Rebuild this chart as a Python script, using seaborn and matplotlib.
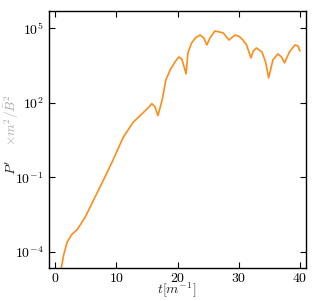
import numpy as np
import pandas as pd
import matplotlib
matplotlib.use("Agg")
import matplotlib.pyplot as plt
from matplotlib.ticker import FuncFormatter
import seaborn as sns

# values (time, log10 of P' m^2 / B^2)
t_vals = [1.0, 1.4, 1.96, 2.7, 3.6, 4.9, 6.1, 7.3, 8.4, 9.5, 11.1, 12.7,
          14.4, 15.3, 15.8, 16.3, 16.8, 17.5, 18.1, 18.8, 19.6, 20.2, 20.7,
          21.4, 21.7, 22.3, 23.0, 23.7, 24.3, 24.8, 25.3, 26.1, 26.9, 27.5,
          28.4, 29.4, 30.1, 30.7, 31.3, 32.0, 32.4, 32.9, 33.8, 34.4, 34.9,
          35.6, 36.4, 37.0, 37.5, 38.3, 39.2, 39.7, 40.0]
log_p = [-4.64, -4.1, -3.6, -3.3, -3.1, -2.6, -2.0, -1.4, -0.85, -0.28, 0.6,
         1.2, 1.6, 1.82, 1.96, 1.84, 1.48, 2.12, 2.92, 3.32, 3.64, 3.84, 3.76,
         3.16, 4.0, 4.4, 4.62, 4.72, 4.6, 4.32, 4.6, 4.88, 4.84, 4.8, 4.52,
         4.72, 4.66, 4.52, 4.32, 3.8, 4.08, 4.2, 4.04, 3.64, 3.0, 3.72, 3.96,
         3.84, 3.6, 4.04, 4.32, 4.28, 4.08]

data = pd.DataFrame({"t": t_vals, "P": np.power(10.0, log_p)})

x_ticks = [0, 10, 20, 30, 40]
y_ticks = [1e-4, 1e-1, 1e2, 1e5]

sns.set_style("ticks")
plt.rcParams["font.family"] = ["DejaVu Serif"]
plt.rcParams["mathtext.fontset"] = "cm"

fig = plt.figure(figsize=(3.34, 3.01), dpi=100)
ax = fig.add_axes([0.147, 0.110, 0.769, 0.853])

sns.lineplot(data=data, x="t", y="P", color="#ff8c1a", linewidth=1.2, ax=ax)
ax.set_yscale("log")
ax.set_xlim(-1, 41)
ax.set_ylim(10 ** -4.64, 10 ** 5.68)
ax.set_xticks(x_ticks)
ax.set_yticks(y_ticks)
ax.xaxis.set_major_formatter(FuncFormatter(lambda v, p: r"$%d$" % v))
ax.yaxis.set_major_formatter(
    FuncFormatter(lambda v, p: r"$10^{%d}$" % round(np.log10(v))))

for s in ax.spines.values():
    s.set_linewidth(1.0)
    s.set_color("black")
ax.tick_params(which="both", direction="in", top=True, right=True,
               labelsize=10, colors="black")
ax.tick_params(which="major", length=4, pad=4)
ax.tick_params(axis="x", which="major", pad=2)
ax.tick_params(which="minor", length=2)

ax.set_xlabel("")
ax.set_ylabel("")
fig.text(0.53, 0.002, r"$t[m^{-1}]$", fontsize=10, ha="center", va="bottom")
fig.text(0.036, 0.445, r"$P'$", rotation=90, fontsize=10,
         ha="center", va="center")
fig.text(0.036, 0.6, r"$\times m^2/\bar{B}^2$", rotation=90, fontsize=9.5,
         ha="center", va="center", color="#aaaaaa")

fig.savefig("out.png", dpi=100)
